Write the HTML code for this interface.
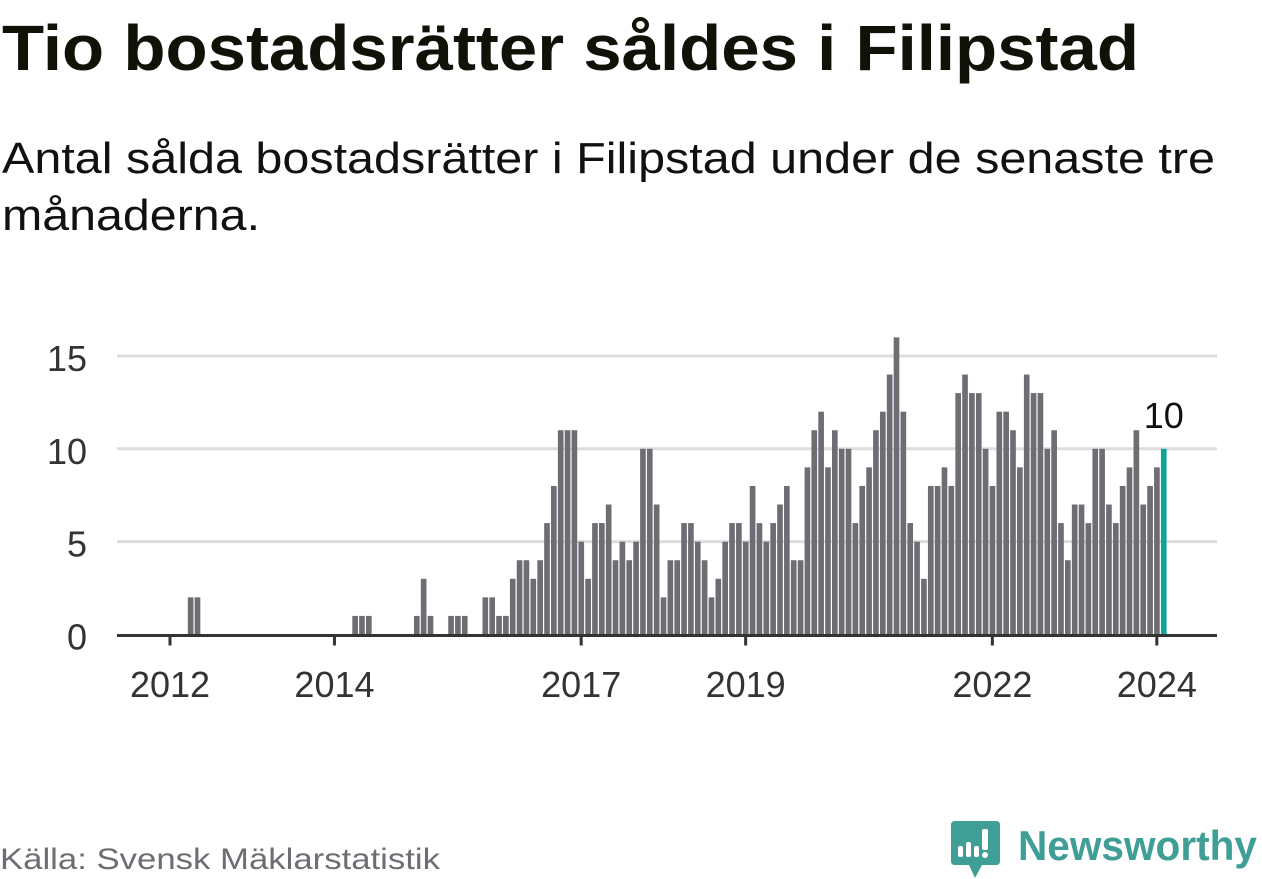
<!DOCTYPE html>
<html><head><meta charset="utf-8"><style>
html,body{margin:0;padding:0;background:#fff;}
svg{display:block;font-family:"Liberation Sans",sans-serif;}
</style></head><body>
<svg id="chart" width="1262" height="879" viewBox="0 0 1262 879" xmlns="http://www.w3.org/2000/svg">
<text x="2" y="70" font-size="64" font-weight="bold" fill="#111108" textLength="1137" lengthAdjust="spacingAndGlyphs">Tio bostadsrätter såldes i Filipstad</text>
<text x="2" y="173" font-size="44" fill="#111" textLength="1213" lengthAdjust="spacingAndGlyphs">Antal sålda bostadsrätter i Filipstad under de senaste tre</text>
<text x="2" y="230" font-size="44" fill="#111" textLength="258" lengthAdjust="spacingAndGlyphs">månaderna.</text>
<g id="grid"></g>
<g id="yaxis"></g>
<g id="bars"></g>
<g id="xaxis"></g>
<g id="annot"></g>
<text x="0" y="869" font-size="30" fill="#6e6d73" textLength="440" lengthAdjust="spacingAndGlyphs">Källa: Svensk Mäklarstatistik</text>
<g>
<path d="M955 821 H996 Q1000 821 1000 825 V861 Q1000 865 996 865 H982 L975 878 L969 865 H955 Q951 865 951 861 V825 Q951 821 955 821 Z" fill="#3f9e96"/>
<rect x="958" y="846" width="5" height="11" rx="2" fill="#fff"/>
<rect x="966" y="842" width="5" height="15" rx="2" fill="#fff"/>
<rect x="974" y="846" width="5" height="11" rx="2" fill="#fff"/>
<rect x="982" y="829" width="6" height="21" rx="2" fill="#fff"/>
<circle cx="985" cy="855" r="3" fill="#fff"/>
<text x="1018" y="860" font-size="42" font-weight="bold" fill="#3f9e96" textLength="239" lengthAdjust="spacingAndGlyphs">Newsworthy</text>
</g>
</svg>
<script>
// Monthly sales, starting Mar 2012, ending Jan 2024
const values = [2,2,0,0,0,0,0,0,0,0,0,0,0,0,0,0,0,0,0,0,0,0,0,0,
1,1,1,0,0,0,0,0,0,1,3,1,0,0,1,1,1,0,0,
2,2,1,1,3,4,4,3,4,6,8,11,11,11,5,3,6,6,7,4,5,4,5,10,10,7,2,4,4,6,6,5,4,2,3,5,6,6,5,8,6,5,
6,7,8,4,4,9,11,12,9,11,10,10,6,8,9,11,12,14,16,12,6,5,3,8,8,9,8,13,14,13,13,10,8,12,12,11,9,14,13,13,10,11,6,4,7,7,6,10,10,7,6,8,9,11,7,8,9,10];
const yTicks = [0,5,10,15];
const xTickYears = [2012,2014,2017,2019,2022,2024];
const startMonthOffset = 2.6; // months after Jan 2012 of first bar's left edge
const highlightLabel = "10";

const NS = "http://www.w3.org/2000/svg";
const X0 = 170, MONTH = 6.853, Y0 = 634.5, UNIT = 18.57;
const xTime = t => X0 + t * MONTH;           // t: months since Jan 2012
const xYear = y => xTime((y - 2012) * 12);
const xBar = i => xTime(i + startMonthOffset);
const yV = v => Y0 - v * UNIT;
function mk(tag, attrs, parent){const e=document.createElementNS(NS,tag);for(const k in attrs)e.setAttribute(k,attrs[k]);parent.appendChild(e);return e;}

const grid = document.getElementById('grid'), yaxis = document.getElementById('yaxis');
yTicks.forEach(v=>{
  if(v>0){
    const l = mk('line',{x1:117,x2:1217,y1:yV(v),y2:yV(v),stroke:'#dddddd','stroke-width':3},grid);
    
    
  }
  const t = mk('text',{x:87,y:yV(v)+15,'font-size':36,fill:'#333','text-anchor':'end'},yaxis);
  t.textContent = v;
  
  
});

const bars = document.getElementById('bars');
values.forEach((v,i)=>{
  if(v<=0) return;
  const last = i===values.length-1;
  const r = mk('rect',{x:xBar(i),y:yV(v),width:MONTH-1.2,height:v*UNIT,fill:last?'#0fa39a':'#6e6d73'},bars);
  
  
});

const xaxis = document.getElementById('xaxis');
const axl = mk('line',{x1:117,x2:1217,y1:Y0+1,y2:Y0+1,stroke:'#333','stroke-width':3},xaxis);


xTickYears.forEach(y=>{
  const tk = mk('line',{x1:xYear(y),x2:xYear(y),y1:Y0,y2:Y0+11,stroke:'#333','stroke-width':3},xaxis);
  
  
  const t = mk('text',{x:xYear(y),y:697,'font-size':36,fill:'#333','text-anchor':'middle'},xaxis);
  t.textContent = y;
  
  
});

const annot = document.getElementById('annot');
const li = values.length-1;
const at = mk('text',{x:xBar(li)+(MONTH-1.2)/2,y:yV(values[li])-21,'font-size':36,fill:'#111','text-anchor':'middle'},annot);
at.textContent = highlightLabel;


</script>
</body></html>
